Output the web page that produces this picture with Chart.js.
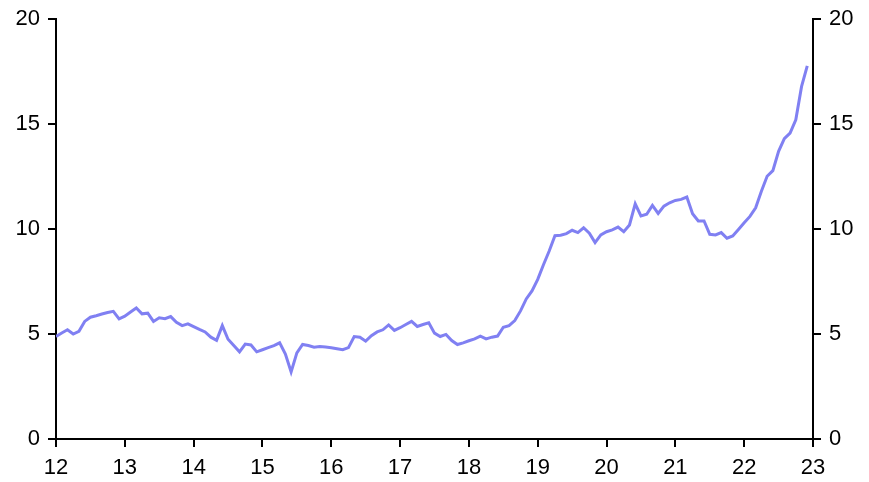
<!DOCTYPE html>
<html>
<head>
<meta charset="utf-8">
<script src="https://cdn.jsdelivr.net/npm/chart.js@4"></script>
<style>
  html, body { margin: 0; padding: 0; background: #fff; }
  #wrap { width: 869px; height: 482px; }
</style>
</head>
<body>
<div id="wrap"><canvas id="chart" width="869" height="482"></canvas></div>
<script>
// monthly series, Jan 2012 .. Dec 2022 (x axis shows two-digit years)
const startYear = 12;
const endYear = 23;
const yTicks = [0, 5, 10, 15, 20];

const values2012 = [4.88, 5.05, 5.2, 5.0, 5.13, 5.6, 5.8, 5.87, 5.95, 6.02, 6.08, 5.72];
const values2013 = [5.85, 6.05, 6.24, 5.96, 5.99, 5.6, 5.77, 5.73, 5.83, 5.56, 5.4, 5.48];
const values2014 = [5.35, 5.22, 5.1, 4.85, 4.7, 5.4, 4.75, 4.45, 4.15, 4.52, 4.48, 4.15];
const values2015 = [4.25, 4.35, 4.45, 4.58, 4.05, 3.19, 4.1, 4.5, 4.45, 4.37, 4.4, 4.38];
const values2016 = [4.35, 4.3, 4.25, 4.35, 4.88, 4.85, 4.66, 4.92, 5.1, 5.2, 5.43, 5.17];
const values2017 = [5.3, 5.45, 5.6, 5.36, 5.45, 5.53, 5.04, 4.88, 4.98, 4.69, 4.5, 4.58];
const values2018 = [4.68, 4.77, 4.9, 4.77, 4.85, 4.9, 5.32, 5.4, 5.64, 6.1, 6.67, 7.05];
const values2019 = [7.6, 8.3, 8.95, 9.68, 9.7, 9.78, 9.94, 9.83, 10.06, 9.8, 9.35, 9.72];
const values2020 = [9.87, 9.96, 10.09, 9.87, 10.19, 11.2, 10.62, 10.7, 11.12, 10.74, 11.09, 11.25];
const values2021 = [11.36, 11.41, 11.52, 10.73, 10.38, 10.38, 9.75, 9.72, 9.83, 9.56, 9.67, 9.98];
const values2022 = [10.3, 10.6, 11.01, 11.8, 12.51, 12.78, 13.7, 14.3, 14.57, 15.2, 16.78, 17.77];

const values = [].concat(values2012, values2013, values2014, values2015, values2016,
  values2017, values2018, values2019, values2020, values2021, values2022);

const points = values.map((v, i) => ({ x: startYear + i / 12, y: v }));

const font = { family: "'Liberation Sans', Arial, sans-serif", size: 22, lineHeight: 1 };

const yAxis = (position) => ({
  type: 'linear',
  position,
  min: 0,
  max: 20,
  afterBuildTicks: axis => { axis.ticks = yTicks.map(v => ({ value: v })); },
  afterFit: axis => { axis.width = 56; },
  border: { display: true, color: '#000', width: 2 },
  grid: { drawOnChartArea: false, drawTicks: true, tickLength: 8, color: '#000', lineWidth: 2 },
  ticks: { color: '#000', font, padding: 8 }
});

new Chart(document.getElementById('chart').getContext('2d'), {
  type: 'line',
  data: {
    datasets: [{
      data: points,
      borderColor: '#8080f2',
      borderWidth: 3,
      pointRadius: 0,
      tension: 0,
      fill: false,
      yAxisID: 'y'
    }]
  },
  options: {
    responsive: false,
    animation: false,
    layout: { padding: { top: 17, left: 0, right: 0, bottom: 0 } },
    plugins: { legend: { display: false }, tooltip: { enabled: false } },
    scales: {
      x: {
        type: 'linear',
        min: startYear,
        max: endYear,
        afterFit: axis => { axis.height = 43; },
        border: { display: true, color: '#000', width: 2 },
        grid: { drawOnChartArea: false, drawTicks: true, tickLength: 8, color: '#000', lineWidth: 2 },
        ticks: { stepSize: 1, color: '#000', font, padding: 10, maxRotation: 0 }
      },
      y: yAxis('left'),
      y2: yAxis('right')
    }
  }
});
</script>
</body>
</html>
